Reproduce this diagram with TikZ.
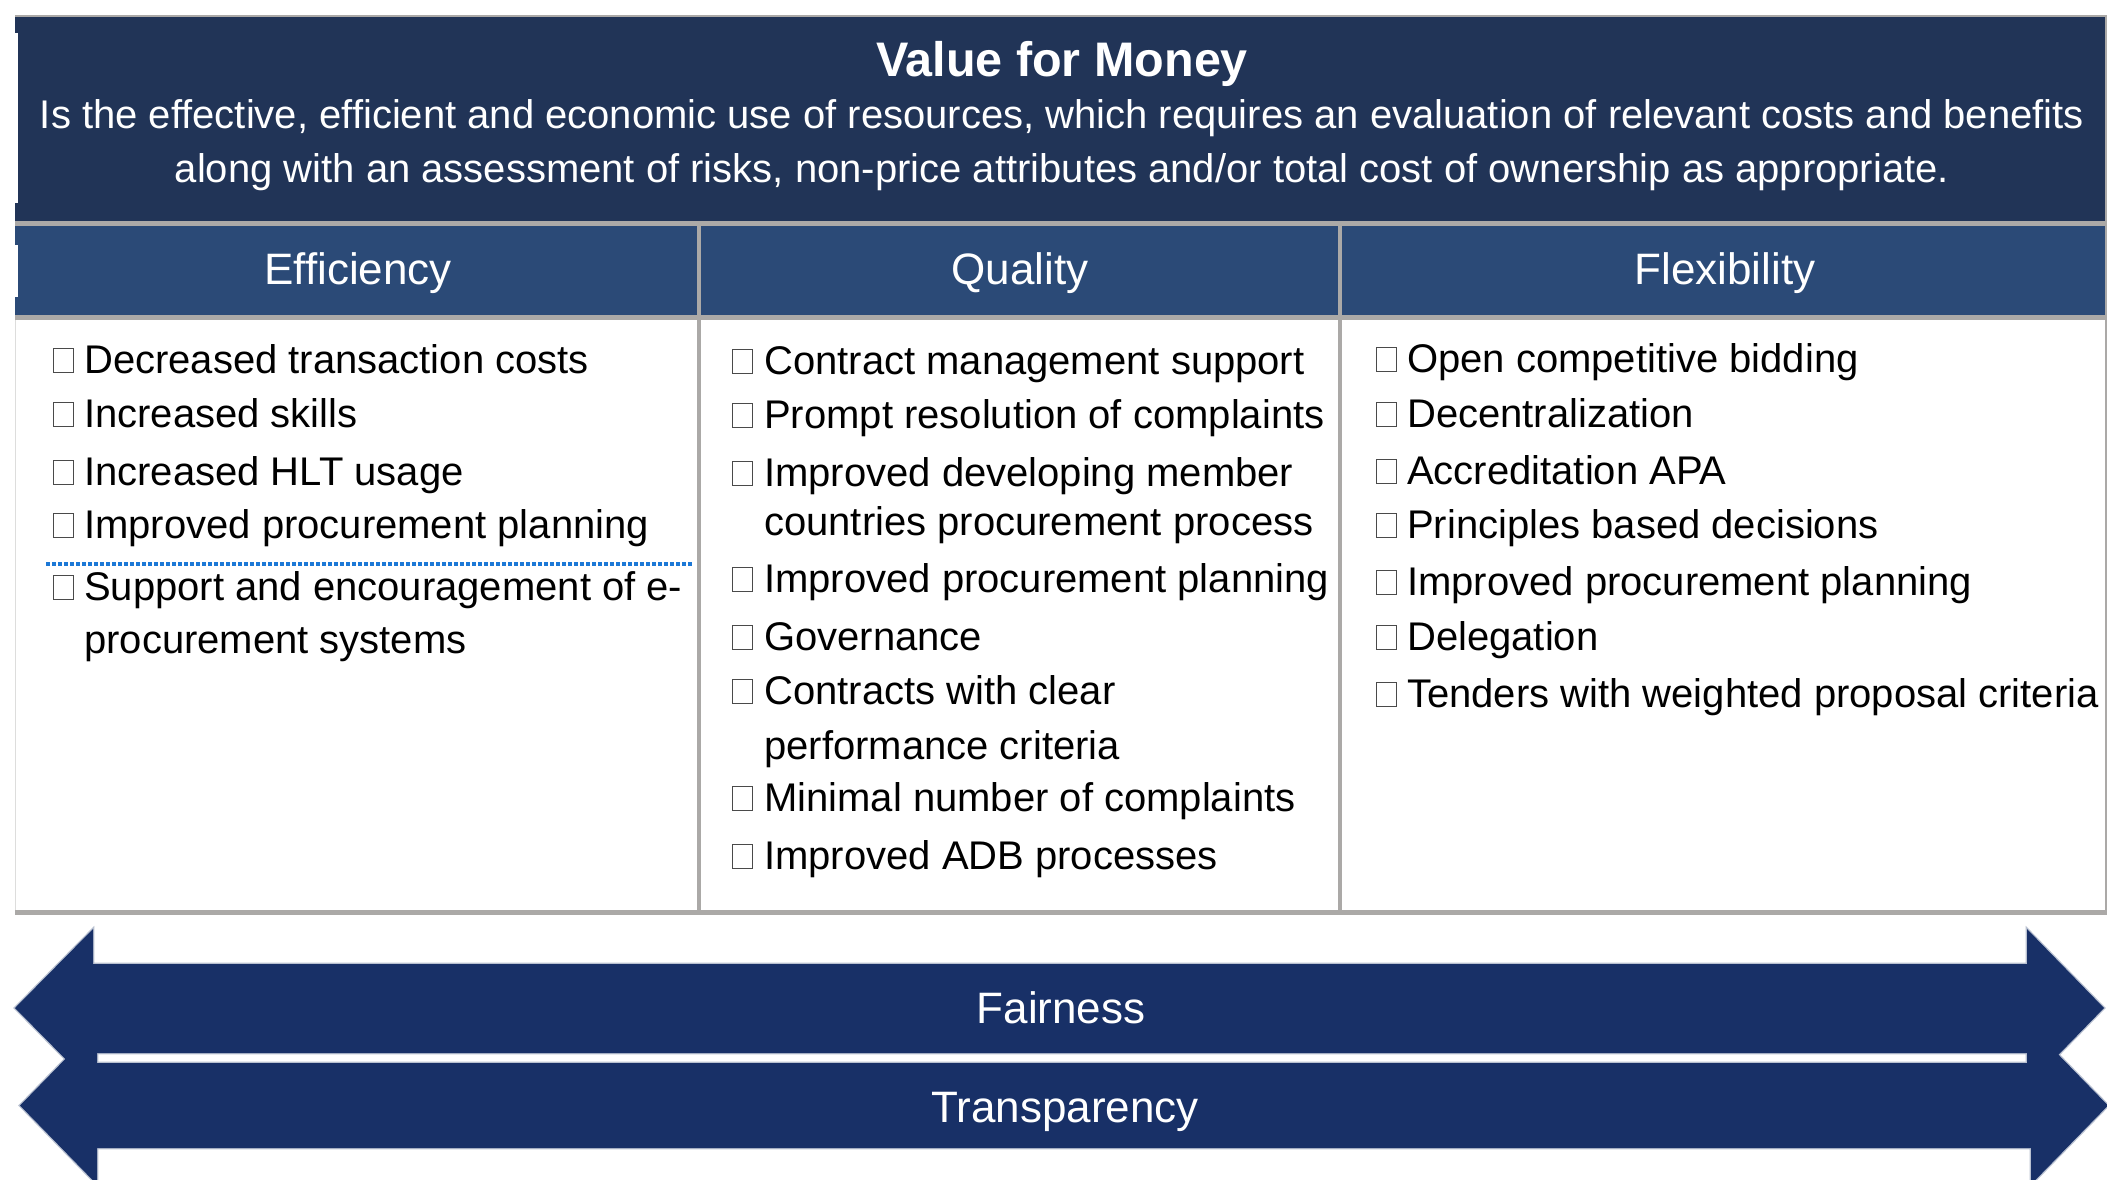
\documentclass[tikz,border=0pt]{standalone}
\usepackage{fontspec}
\setmainfont{Liberation Sans}
\definecolor{hdr}{HTML}{213457}
\definecolor{colhdr}{HTML}{2B4A77}
\definecolor{arrowfill}{HTML}{183067}
\definecolor{arrowedge}{HTML}{B8C0D0}
\definecolor{gridgray}{HTML}{ABA9A7}
\definecolor{dotblue}{HTML}{1C78D6}
\definecolor{boxgray}{HTML}{4A4A4A}
\begin{document}
\begin{tikzpicture}[x=1pt,y=-1pt,
  item/.style={anchor=base west, inner sep=0pt, font=\fontsize{40}{48}\selectfont, text=black},
  chk/.style={draw=boxgray, line width=1.3pt, fill=white, minimum width=20pt, minimum height=24pt, inner sep=0pt, anchor=south west},
  colhead/.style={anchor=base, inner sep=0pt, text=white, font=\fontsize{44}{52}\selectfont},
  subtxt/.style={anchor=base, inner sep=0pt, text=white, font=\fontsize{40}{48}\selectfont},
  arrtxt/.style={anchor=base, inner sep=0pt, text=white, font=\fontsize{44}{52}\selectfont},
  gridline/.style={draw=gridgray, line width=5pt},
  arrowshape/.style={fill=arrowfill}
]
\useasboundingbox (0,0) rectangle (2107,1179);
\clip (0,0) rectangle (2107,1179);

% header and column header bands
\fill[hdr] (15,15) rectangle (2106,221);
\fill[colhdr] (15,226) rectangle (2106,315);
% white notches at the left edge
\fill[white] (15,33) rectangle (18,203);
\fill[white] (15,245) rectangle (18,297);

% grid lines
\draw[draw=gridgray, line width=2.5pt] (15,16) -- (2106,16);
\draw[gridline] (15,223.5) -- (2106,223.5);
\draw[gridline] (15,317.5) -- (2106,317.5);
\draw[gridline] (15,912.5) -- (2106,912.5);
\draw[draw=gridgray, line width=4pt] (699,221) -- (699,915);
\draw[draw=gridgray, line width=4pt] (1340,221) -- (1340,915);
\draw[draw=gridgray, line width=2pt] (2106,15) -- (2106,915);
\draw[draw=gridgray!40, line width=1pt] (15,320) -- (15,910);

% header texts
\node[anchor=base, inner sep=0pt, text=white, font=\bfseries\fontsize{48.5}{56}\selectfont] (title) at (1062,76) {Value for Money};
\node[subtxt] (sub1) at (1062,128) {Is the effective, efficient and economic use of resources, which requires an evaluation of relevant costs and benefits};
\node[subtxt] (sub2) at (1062,182) {along with an assessment of risks, non-price attributes and/or total cost of ownership as appropriate.};

% column headers
\node[colhead] (effh) at (358,284) {Efficiency};
\node[colhead] (qualh) at (1020,284) {Quality};
\node[colhead] (flexh) at (1725,284) {Flexibility};

% Efficiency items
\node[chk] (eb1) at (53,373) {};
\node[item] (e1) at (84,373) {Decreased transaction costs};
\node[chk] (eb2) at (53,427) {};
\node[item] (e2) at (84,427) {Increased skills};
\node[chk] (eb3) at (53,485) {};
\node[item] (e3) at (84,485) {Increased HLT usage};
\node[chk] (eb4) at (53,538) {};
\node[item] (e4) at (84,538) {Improved procurement planning};
\coordinate (dotL) at (46,564);
\coordinate (dotR) at (693,564);
\draw[dotblue, line width=4pt, dash pattern=on 3.6pt off 2.4pt] (dotL) -- (dotR);
\node[chk] (eb5) at (53,600) {};
\node[item] (e5) at (84,600) {Support and encouragement of e-};
\node[item] (e5b) at (84,653) {procurement systems};

% Quality items
\node[chk] (qb1) at (732,374) {};
\node[item] (q1) at (764,374) {Contract management support};
\node[chk] (qb2) at (732,428) {};
\node[item] (q2) at (764,428) {Prompt resolution of complaints};
\node[chk] (qb3) at (732,486) {};
\node[item] (q3) at (764,486) {Improved developing member};
\node[item] (q3b) at (764,535) {countries procurement process};
\node[chk] (qb4) at (732,592) {};
\node[item] (q4) at (764,592) {Improved procurement planning};
\node[chk] (qb5) at (732,650) {};
\node[item] (q5) at (764,650) {Governance};
\node[chk] (qb6) at (732,704) {};
\node[item] (q6) at (764,704) {Contracts with clear};
\node[item] (q6b) at (764,759) {performance criteria};
\node[chk] (qb7) at (732,811) {};
\node[item] (q7) at (764,811) {Minimal number of complaints};
\node[chk] (qb8) at (732,869) {};
\node[item] (q8) at (764,869) {Improved ADB processes};

% Flexibility items
\node[chk] (fb1) at (1376,372) {};
\node[item] (f1) at (1407,372) {Open competitive bidding};
\node[chk] (fb2) at (1376,427) {};
\node[item] (f2) at (1407,427) {Decentralization};
\node[chk] (fb3) at (1376,484) {};
\node[item] (f3) at (1407,484) {Accreditation APA};
\node[chk] (fb4) at (1376,538) {};
\node[item] (f4) at (1407,538) {Principles based decisions};
\node[chk] (fb5) at (1376,595) {};
\node[item] (f5) at (1407,595) {Improved procurement planning};
\node[chk] (fb6) at (1376,650) {};
\node[item] (f6) at (1407,650) {Delegation};
\node[chk] (fb7) at (1376,707) {};
\node[item] (f7) at (1407,707) {Tenders with weighted proposal criteria};

% double-headed arrows
\def\arrowA{(15,1008) -- (93,929) -- (93,964) -- (2027,964) -- (2027,929) -- (2104,1008) -- (2027,1087) -- (2027,1053) -- (93,1053) -- (93,1087) -- cycle}
\def\arrowB{(20,1105.5) -- (97,1026.5) -- (97,1063) -- (2031,1063) -- (2031,1026.5) -- (2108,1105.5) -- (2031,1184.5) -- (2031,1148) -- (97,1148) -- (97,1184.5) -- cycle}
\draw[arrowedge, line width=2.6pt, line join=miter] \arrowA;
\draw[arrowedge, line width=2.6pt, line join=miter] \arrowB;
\fill[arrowshape] \arrowA;
\fill[arrowshape] \arrowB;
\node[arrtxt] (fair) at (1061,1023) {Fairness};
\node[arrtxt] (transp) at (1065,1122) {Transparency};
\end{tikzpicture}
\end{document}
